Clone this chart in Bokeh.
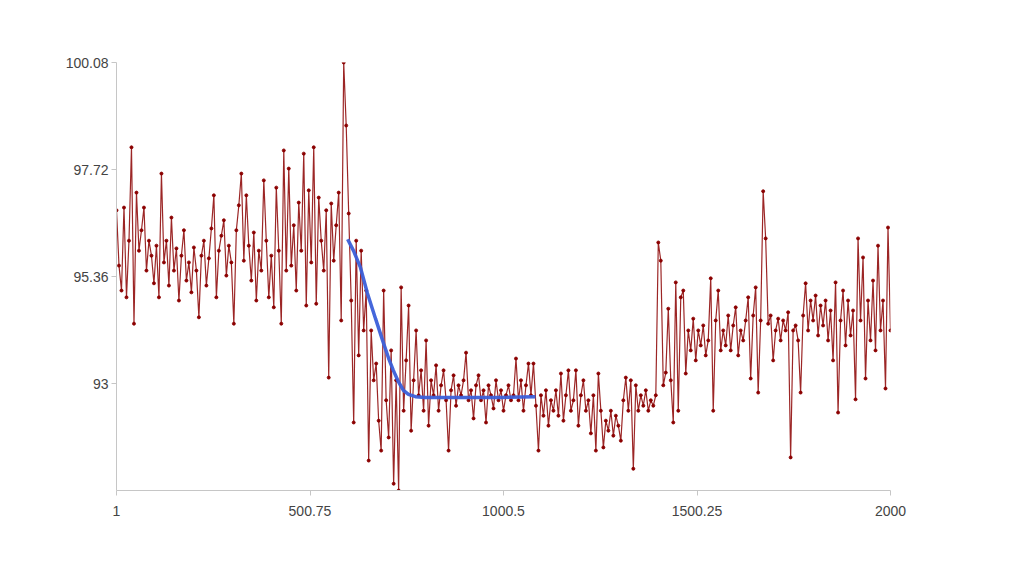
from bokeh.plotting import figure
from bokeh.models import Range1d, FixedTicker, CustomJSTickFormatter
from bokeh.embed import file_html
from bokeh.resources import INLINE
import numpy as np

# Noisy measured series (evenly spaced samples from 1 to 2000)
series_y = [
    96.82, 95.60, 95.05, 96.88, 94.90, 96.15, 98.21, 94.32, 97.21, 95.93,
    96.38, 96.88, 95.49, 96.15, 95.82, 95.21, 96.04, 94.90, 97.63, 95.67,
    96.15, 95.16, 96.66, 95.49, 95.98, 94.83, 95.82, 96.38, 95.27, 95.67,
    95.01, 96.00, 95.49, 94.46, 95.82, 96.15, 95.16, 95.76, 96.42, 97.15,
    94.90, 95.93, 96.26, 96.60, 95.38, 96.04, 95.67, 94.32, 96.38, 96.93,
    97.63, 95.71, 97.15, 96.04, 95.27, 96.33, 94.83, 95.93, 95.49, 97.48,
    96.15, 94.90, 95.82, 94.68, 97.32, 95.93, 94.32, 98.14, 95.49, 97.74,
    95.60, 96.49, 95.05, 96.99, 95.93, 98.07, 94.72, 97.26, 95.67, 98.21,
    94.76, 97.10, 96.15, 95.49, 96.82, 93.13, 96.97, 95.71, 96.49, 97.21,
    94.39, 100.08, 98.69, 96.75, 94.83, 92.14, 96.15, 93.62, 95.93, 94.17,
    95.05, 91.30, 94.17, 93.07, 93.44, 92.18, 91.52, 95.05, 92.63, 91.81,
    93.73, 90.79, 93.07, 90.64, 95.12, 92.40, 93.51, 94.72, 91.96, 93.07,
    94.17, 92.74, 93.29, 92.40, 93.95, 92.07, 93.07, 92.74, 93.40, 92.40,
    92.96, 93.29, 92.63, 91.52, 92.85, 93.18, 92.51, 92.96, 92.74, 93.07,
    93.68, 92.63, 92.85, 92.23, 92.96, 93.18, 92.63, 92.85, 92.14, 92.96,
    92.74, 92.45, 93.07, 92.63, 92.85, 92.40, 92.74, 92.96, 92.63, 92.74,
    93.55, 92.63, 93.07, 92.40, 92.96, 93.44, 92.74, 93.44, 92.51, 91.52,
    92.74, 92.29, 92.85, 92.07, 92.63, 92.40, 92.85, 92.29, 93.22, 92.18,
    92.74, 93.29, 92.40, 92.63, 93.29, 92.07, 92.74, 93.07, 92.40, 92.63,
    91.90, 92.74, 91.52, 93.22, 92.40, 91.59, 92.18, 91.96, 92.40, 91.85,
    92.29, 92.07, 91.74, 92.63, 93.13, 92.40, 93.07, 91.12, 92.96, 92.40,
    92.74, 92.51, 92.85, 92.40, 92.63, 92.51, 92.74, 96.11, 95.71, 92.96,
    93.24, 94.65, 93.07, 92.14, 95.23, 92.40, 94.90, 95.05, 93.22, 94.17,
    93.73, 94.43, 93.51, 94.17, 93.84, 94.28, 93.62, 93.95, 95.32, 92.40,
    94.39, 95.05, 93.73, 94.17, 93.84, 94.50, 93.73, 94.28, 94.68, 93.62,
    94.17, 93.95, 94.39, 94.90, 93.11, 94.50, 95.12, 92.80, 94.39, 97.24,
    96.20, 94.32, 94.50, 93.51, 94.17, 94.43, 93.95, 94.39, 94.17, 94.57,
    91.37, 94.17, 94.28, 93.95, 92.80, 94.50, 95.21, 94.17, 94.83, 94.39,
    94.94, 94.06, 94.72, 94.28, 94.83, 93.95, 94.61, 93.51, 95.23, 92.36,
    94.39, 95.05, 93.84, 94.83, 94.06, 94.61, 92.65, 96.20, 94.39, 95.78,
    93.11, 94.83, 93.95, 95.27, 93.73, 96.04, 94.17, 94.83, 92.89, 96.44,
    94.17,
]
series_x = np.linspace(1, 2000, len(series_y))

# Fitted trend (sigmoid-like decay)
trend_x = [598, 613, 631, 649, 670, 691, 704, 716, 729, 742, 755, 773, 799, 864, 993, 1083]
trend_y = [96.18, 95.93, 95.56, 94.99, 94.43, 93.88, 93.55, 93.29, 93.04, 92.85,
           92.76, 92.71, 92.69, 92.69, 92.69, 92.71]

x_ticks = [1, 500.75, 1000.5, 1500.25, 2000]
y_ticks = [93, 95.36, 97.72, 100.08]

p = figure(width=999, height=545, output_backend="svg", toolbar_location=None,
           x_range=Range1d(1, 2000), y_range=Range1d(90.64, 100.08),
           min_border_left=116, min_border_right=109, min_border_top=62,
           min_border_bottom=55)
p.outline_line_color = None
p.xgrid.visible = False
p.ygrid.visible = False
p.background_fill_color = "white"
p.border_fill_color = "white"

red = "#8b0000"
p.line(series_x, series_y, line_color=red, line_width=1.2, line_alpha=0.85)
p.scatter(series_x, series_y, size=3, fill_color=red, line_color=red, line_alpha=0.9)
p.line(trend_x, trend_y, line_color="#3b5fd9", line_width=3.5, line_alpha=0.95)

fmt = CustomJSTickFormatter(code="return String(Math.round(tick*100)/100);")
for ax, ticks in ((p.xaxis, x_ticks), (p.yaxis, y_ticks)):
    ax.ticker = FixedTicker(ticks=ticks)
    ax.formatter = fmt
    ax.axis_line_color = "#c6c6c6"
    ax.major_tick_line_color = "#c6c6c6"
    ax.major_tick_in = 0
    ax.major_tick_out = 5
    ax.minor_tick_line_color = None
    ax.major_label_text_color = "#444444"
    ax.major_label_text_font = "Liberation Sans"
    ax.major_label_text_font_size = "14px"
p.yaxis.major_label_standoff = 3
p.xaxis.major_label_standoff = 10

open("out.html", "w").write(file_html(p, INLINE))
